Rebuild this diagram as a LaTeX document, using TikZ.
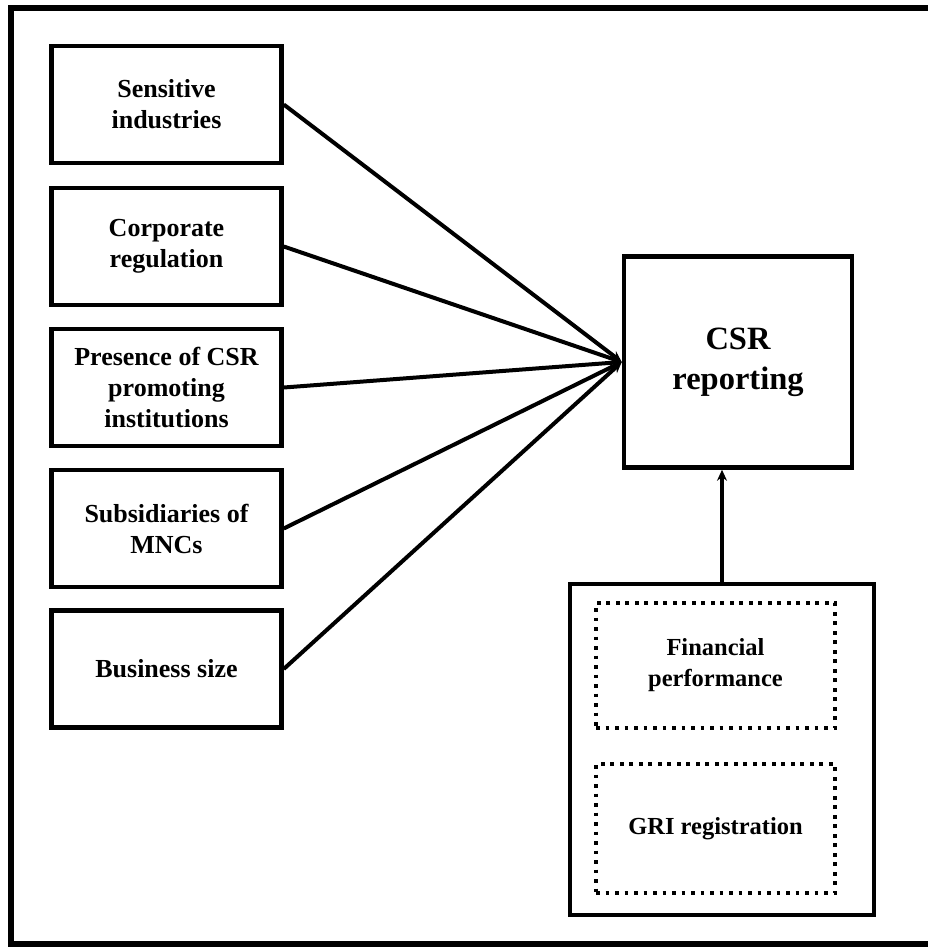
\documentclass[tikz,border=0pt]{standalone}
\usepackage{fontspec}
\setmainfont{Liberation Serif}
\usetikzlibrary{arrows.meta}
\begin{document}
\begin{tikzpicture}[x=1pt,y=-1pt,
  factor/.style={draw,line width=4.5pt,rectangle,minimum width=230pt,minimum height=117pt,
    align=center,inner sep=0pt,font=\bfseries\fontsize{26}{31}\selectfont},
  outcome/.style={draw,line width=4.5pt,rectangle,minimum width=228pt,minimum height=211pt,
    align=center,inner sep=0pt,font=\bfseries\fontsize{32.5}{40}\selectfont},
  holder/.style={draw,line width=4.5pt,rectangle,minimum width=304pt,minimum height=331pt,inner sep=0pt},
  control/.style={draw,line width=3.6pt,dash pattern=on 3.6pt off 5.9pt,rectangle,minimum width=239pt,
    align=center,inner sep=0pt,font=\bfseries\fontsize{24.5}{31}\selectfont},
  link/.style={line width=4pt,-{Stealth[length=11pt,width=10pt]}}]
\useasboundingbox (0,0) rectangle (928,947);
% outer frame, open on the right
\draw[line width=6pt] (928,8.5) -- (11,8.5) -- (11,944) -- (928,944);

% determinants
\node[factor] (sens) at (166.5,104.5) {Sensitive\\industries};
\node[factor] (corp) at (166.5,246.5) {Corporate\\regulation};
\node[factor] (pres) at (166.5,387.5) {Presence of CSR\\promoting\\institutions};
\node[factor] (subs) at (166.5,528.5) {Subsidiaries of\\MNCs};
\node[factor] (size) at (166.5,669) {Business size};

% dependent variable
\node[outcome] (csr) at (738,362) {CSR\\reporting};

% control variables
\node[holder] (ctrl) at (722,749.5) {};
\node[control,minimum height=125pt] (fin) at (715.5,665.5) {Financial\\performance};
\node[control,minimum height=129pt] (gri) at (715.5,828.5) {GRI registration};

% relations
\foreach \n in {sens,corp,pres,subs,size}
  \draw[link] (\n.east) -- (csr.west);
\draw[link] (ctrl.north) -- (ctrl.north |- csr.south);
\end{tikzpicture}
\end{document}
